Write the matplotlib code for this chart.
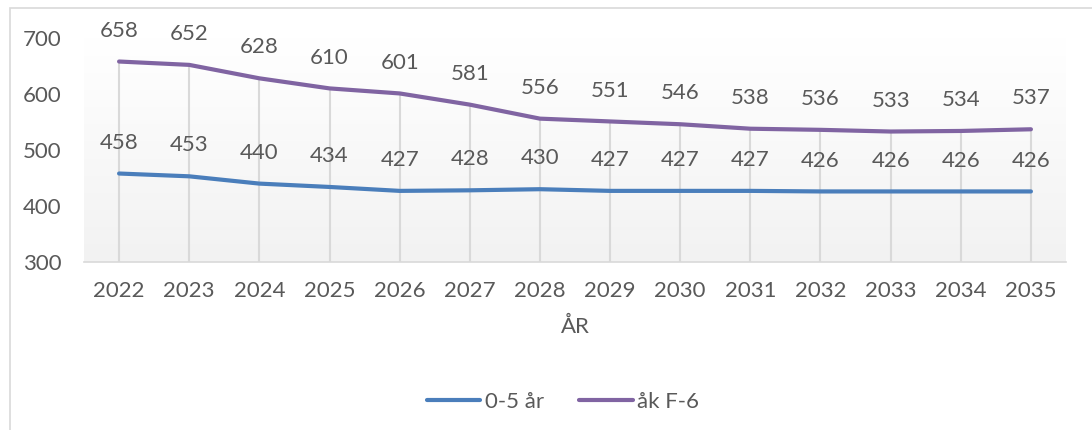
import numpy as np
import matplotlib
matplotlib.use("Agg")
import matplotlib.pyplot as plt
from matplotlib.patches import Rectangle

years = ["2022", "2023", "2024", "2025", "2026", "2027", "2028",
         "2029", "2030", "2031", "2032", "2033", "2034", "2035"]
barn_0_5 = [458, 453, 440, 434, 427, 428, 430, 427, 427, 427, 426, 426, 426, 426]
ak_f_6 = [658, 652, 628, 610, 601, 581, 556, 551, 546, 538, 536, 533, 534, 537]

TEXT = "#595959"
GRID = "#d9d9d9"
BLUE = "#4a7ebb"
PURPLE = "#8064a2"

plt.rcParams["font.family"] = ["Lato", "DejaVu Sans"]
FS = 16

fig = plt.figure(figsize=(10.92, 4.30), dpi=100)
ax = fig.add_axes([84 / 1092, 1 - 262 / 430, 982 / 1092, 224 / 430])

x = np.arange(len(years))

# chart border (cut off at right/bottom like the screenshot)
fig.patches.append(Rectangle((10 / 1092, -0.1), 1.2, 1 - 8 / 430 + 0.1,
                             transform=fig.transFigure, fill=False,
                             edgecolor=GRID, linewidth=1.2))

# gradient plot area
grad = np.linspace(0, 1, 256).reshape(-1, 1)
ax.imshow(grad, extent=(-0.5, len(years) - 0.5, 300, 700), aspect="auto",
          cmap=matplotlib.colors.LinearSegmentedColormap.from_list(
              "g", ["#f2f2f2", "#ffffff"]),
          origin="lower", zorder=0)

# drop lines from the top series
top = np.maximum(barn_0_5, ak_f_6)
ax.vlines(x, 300, top, color=GRID, linewidth=1.5, zorder=1)

ax.plot(x, barn_0_5, color=BLUE, linewidth=3, label="0-5 år", zorder=3,
        solid_capstyle="round")
ax.plot(x, ak_f_6, color=PURPLE, linewidth=3, label="åk F-6", zorder=3,
        solid_capstyle="round")

for series in (barn_0_5, ak_f_6):
    for xi, v in zip(x, series):
        ax.annotate(str(v), (xi, v), xytext=(0, 15), textcoords="offset points",
                    ha="center", va="bottom", fontsize=FS, color=TEXT)

ax.set_xlim(-0.5, len(years) - 0.5)
ax.set_ylim(300, 700)
ax.set_yticks([300, 400, 500, 600, 700])
ax.set_xticks(x)
ax.set_xticklabels(years)
ax.tick_params(axis="both", length=0, labelsize=FS, colors=TEXT)
ax.tick_params(axis="y", pad=16)
ax.tick_params(axis="x", pad=14)

for side in ["top", "right", "left"]:
    ax.spines[side].set_visible(False)
ax.spines["bottom"].set_color(GRID)
ax.spines["bottom"].set_linewidth(1.2)

ax.set_xlabel("ÅR", fontsize=FS, color=TEXT, labelpad=11)

fig.legend(loc="center", bbox_to_anchor=(563 / 1092, 1 - 402 / 430),
           ncol=2, frameon=False, fontsize=FS, labelcolor=TEXT,
           handlelength=2.4, handletextpad=0.2, columnspacing=1.6)

plt.savefig("out.png", dpi=100)
